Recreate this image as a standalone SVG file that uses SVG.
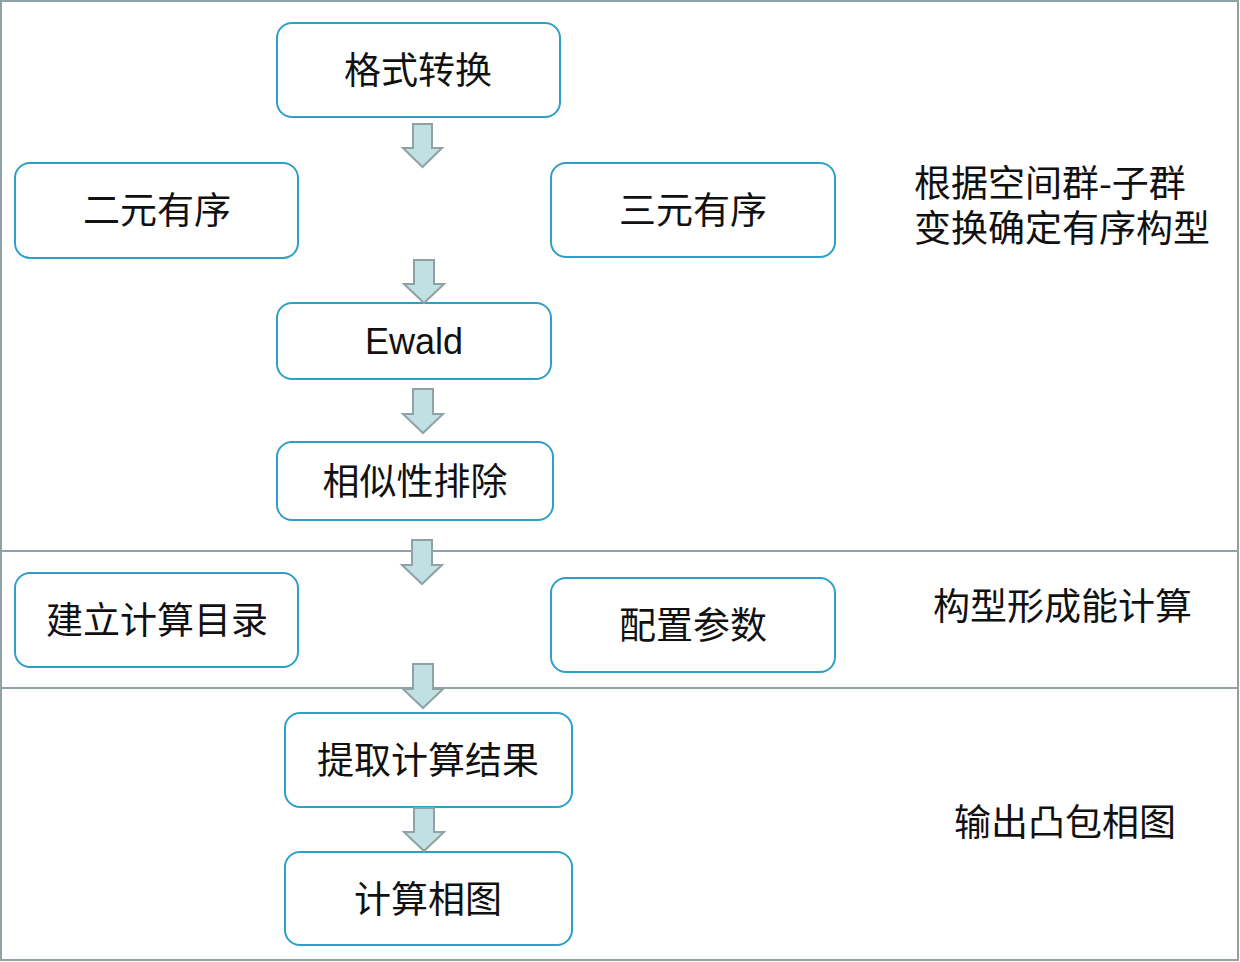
<svg xmlns="http://www.w3.org/2000/svg" width="1240" height="962" viewBox="0 0 1240 962">
<style>
.frame{fill:none;stroke:#8fa3a6;stroke-width:2}
.box{fill:#ffffff;stroke:#2e9fc9;stroke-width:2}
.t{font-family:"Noto Sans CJK SC","Noto Sans",sans-serif;font-size:37px;fill:#111;text-anchor:middle;dominant-baseline:central}
.l{font-family:"Noto Sans CJK SC","Noto Sans",sans-serif;font-size:37px;fill:#111;dominant-baseline:central}
.e{font-family:"Liberation Sans",Arial,sans-serif;font-size:36px;fill:#111;text-anchor:middle;dominant-baseline:central}
.arr{fill:#c0e0e3;stroke:#8fa3a6;stroke-width:2;stroke-linejoin:miter}
</style>
<rect width="1240" height="962" fill="#ffffff"/>
<g id="frame">
<rect class="frame" x="1" y="1" width="1237" height="959"/>
<line class="frame" x1="1" y1="551" x2="1238" y2="551"/>
<line class="frame" x1="1" y1="688" x2="1238" y2="688"/>
</g>
<g id="n1"><rect class="box" x="277" y="23" width="283" height="94" rx="15"/><text class="t" x="418" y="68">格式转换</text></g>
<g id="n2"><rect class="box" x="15" y="163" width="283" height="95" rx="15"/><text class="t" x="157" y="208">二元有序</text></g>
<g id="n3"><rect class="box" x="551" y="163" width="284" height="94" rx="15"/><text class="t" x="693" y="208">三元有序</text></g>
<g id="n4"><rect class="box" x="277" y="303" width="274" height="76" rx="15"/><text class="e" x="414" y="341">Ewald</text></g>
<g id="n5"><rect class="box" x="277" y="442" width="276" height="78" rx="15"/><text class="t" x="415" y="479">相似性排除</text></g>
<g id="n6"><rect class="box" x="15" y="573" width="283" height="94" rx="15"/><text class="t" x="157" y="618">建立计算目录</text></g>
<g id="n7"><rect class="box" x="551" y="578" width="284" height="94" rx="15"/><text class="t" x="693" y="623">配置参数</text></g>
<g id="n8"><rect class="box" x="285" y="713" width="287" height="94" rx="15"/><text class="t" x="428" y="758">提取计算结果</text></g>
<g id="n9"><rect class="box" x="285" y="852" width="287" height="93" rx="15"/><text class="t" x="428" y="897">计算相图</text></g>
<g id="labels">
<text class="l"><tspan x="914" y="181">根据空间群-子群</tspan><tspan x="914" y="226">变换确定有序构型</tspan></text>
<text class="l" x="933" y="604">构型形成能计算</text>
<text class="l" x="954" y="820">输出凸包相图</text>
</g>
<g id="connectors">
<path class="arr" d="M413 124 H432 V148 H442 L422.5 167 L403 148 H413 Z"/>
<path class="arr" d="M414 260 H434 V284 H444 L424 303 L404 284 H414 Z"/>
<path class="arr" d="M413 389 H433 V414 H443 L423 433 L403 414 H413 Z"/>
<path class="arr" d="M412 540 H432 V565 H442 L422 584 L402 565 H412 Z"/>
<path class="arr" d="M413 664 H433 V689 H443 L423 708 L403 689 H413 Z"/>
<path class="arr" d="M414 808 H434 V832 H444 L424 851 L404 832 H414 Z"/>
</g>
</svg>
